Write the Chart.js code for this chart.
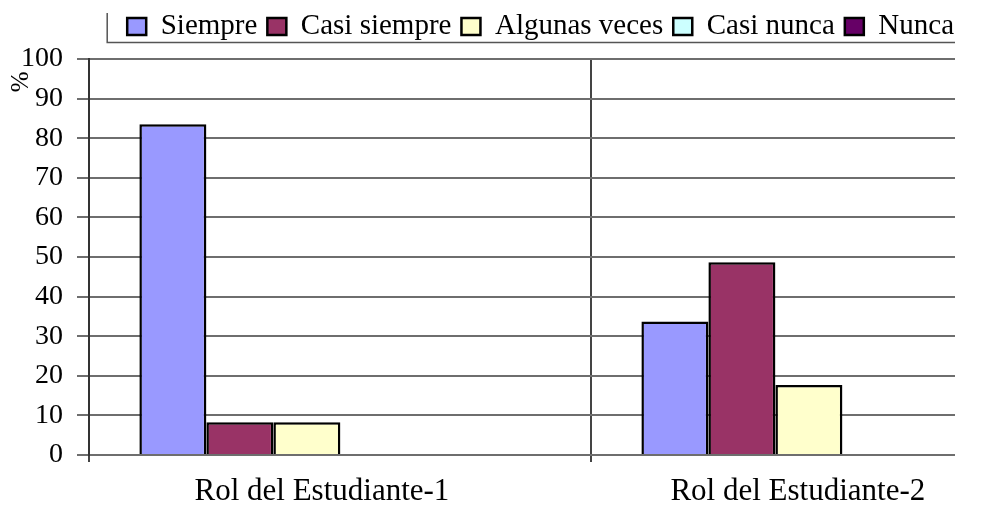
<!DOCTYPE html>
<html>
<head>
<meta charset="utf-8">
<script src="https://cdn.jsdelivr.net/npm/chart.js@4.4.1/dist/chart.umd.min.js"></script>
<style>
  html, body { margin: 0; padding: 0; background: #fff; }
  #wrap { width: 986px; height: 518px; }
</style>
</head>
<body>
<div id="wrap"><canvas id="chart" width="986" height="518"></canvas></div>
<script>
const categories = ['Rol del Estudiante-1', 'Rol del Estudiante-2'];
const seriesNames = ['Siempre', 'Casi siempre', 'Algunas veces', 'Casi nunca', 'Nunca'];
const siempre = [83.5, 33.7];
const casiSiempre = [8.3, 48.7];
const algunasVeces = [8.3, 17.7];
const casiNunca = [0, 0];
const nunca = [0, 0];
const yTicks = [0, 10, 20, 30, 40, 50, 60, 70, 80, 90, 100];

const colors = ['#9999ff', '#993366', '#ffffcc', '#ccffff', '#660066'];
const allSeries = [siempre, casiSiempre, algunasVeces, casiNunca, nunca];

// each category is one unit wide on the x scale; the chart is cropped on the right
const groupPos = 0.434;
const labelPos = [0.464, 0.412];
const xMax = 1.725;

const serif = "'Liberation Serif', 'Times New Roman', serif";

const datasets = allSeries.map((vals, s) => ({
    label: seriesNames[s],
    data: categories.map((c, i) => ({ x: i + groupPos, y: vals[i] })),
    xAxisID: 'x',
    yAxisID: 'y',
    backgroundColor: colors[s],
    borderColor: '#000',
    borderWidth: 2.5,
    inflateAmount: 0,
    barThickness: 67
}));

// legend frame: only the left and bottom edges are visible
const legendFrame = {
    id: 'legendFrame',
    afterDraw(chart) {
        const boxes = chart.legend.legendHitBoxes;
        if (!boxes || !boxes.length) return;
        const c = chart.ctx;
        const left = boxes[0].left - 20;
        const right = chart.chartArea.right;
        const bottom = boxes[0].top + boxes[0].height / 2 + 16;
        c.save();
        c.strokeStyle = '#555';
        c.lineWidth = 1.5;
        c.beginPath();
        c.moveTo(left, 13);
        c.lineTo(left, bottom);
        c.lineTo(right, bottom);
        c.stroke();
        c.restore();
    }
};

// empty axes used only to leave some room
const spacer = size => ({
    type: 'linear',
    display: true,
    grid: { display: false },
    border: { display: false },
    ticks: { display: false },
    afterFit: s => { if (s.isHorizontal()) s.height = size; else s.width = size; }
});

new Chart(document.getElementById('chart'), {
    type: 'bar',
    data: { datasets: datasets },
    plugins: [legendFrame],
    options: {
        responsive: false,
        animation: false,
        layout: { padding: { left: 0, right: 22, top: 2, bottom: 0 } },
        plugins: {
            tooltip: { enabled: false },
            legend: {
                position: 'top',
                align: 'end',
                labels: {
                    boxWidth: 19,
                    boxHeight: 17,
                    padding: 10,
                    color: '#000',
                    font: { family: serif, size: 29 }
                }
            }
        },
        scales: {
            x: {
                type: 'linear',
                min: 0,
                max: xMax,
                offset: false,
                afterBuildTicks: scale => {
                    const t = [];
                    categories.forEach((c, i) => { t.push({ value: i }); t.push({ value: i + labelPos[i] }); });
                    scale.ticks = t;
                },
                afterFit: scale => { scale.height = 63; },
                grid: {
                    offset: false,
                    color: ctx => (ctx.tick && Number.isInteger(ctx.tick.value) ? '#444' : 'rgba(0,0,0,0)'),
                    lineWidth: 2,
                    tickLength: 7
                },
                border: { display: false },
                ticks: {
                    autoSkip: false,
                    maxRotation: 0,
                    padding: 11,
                    color: '#000',
                    font: { family: serif, size: 31 },
                    callback: value => {
                        const i = Math.floor(value);
                        return Math.abs(value - (i + labelPos[i])) < 1e-6 ? categories[i] : '';
                    }
                }
            },
            y: {
                min: 0,
                max: 100,
                afterBuildTicks: scale => { scale.ticks = yTicks.map(v => ({ value: v })); },
                afterFit: scale => { scale.width = 89; },
                grid: { color: '#6e6e6e', lineWidth: 2, tickLength: 12 },
                border: { color: '#333', width: 2 },
                title: {
                    display: true,
                    text: '%  ',
                    align: 'end',
                    color: '#000',
                    padding: { top: 6, bottom: 0 },
                    font: { family: serif, size: 25 }
                },
                ticks: {
                    padding: 14,
                    color: '#000',
                    font: { family: serif, size: 28 }
                }
            },
            xTop: Object.assign(spacer(8), { position: 'top' }),
            yRight: Object.assign(spacer(9), { position: 'right' })
        }
    }
});
</script>
</body>
</html>
